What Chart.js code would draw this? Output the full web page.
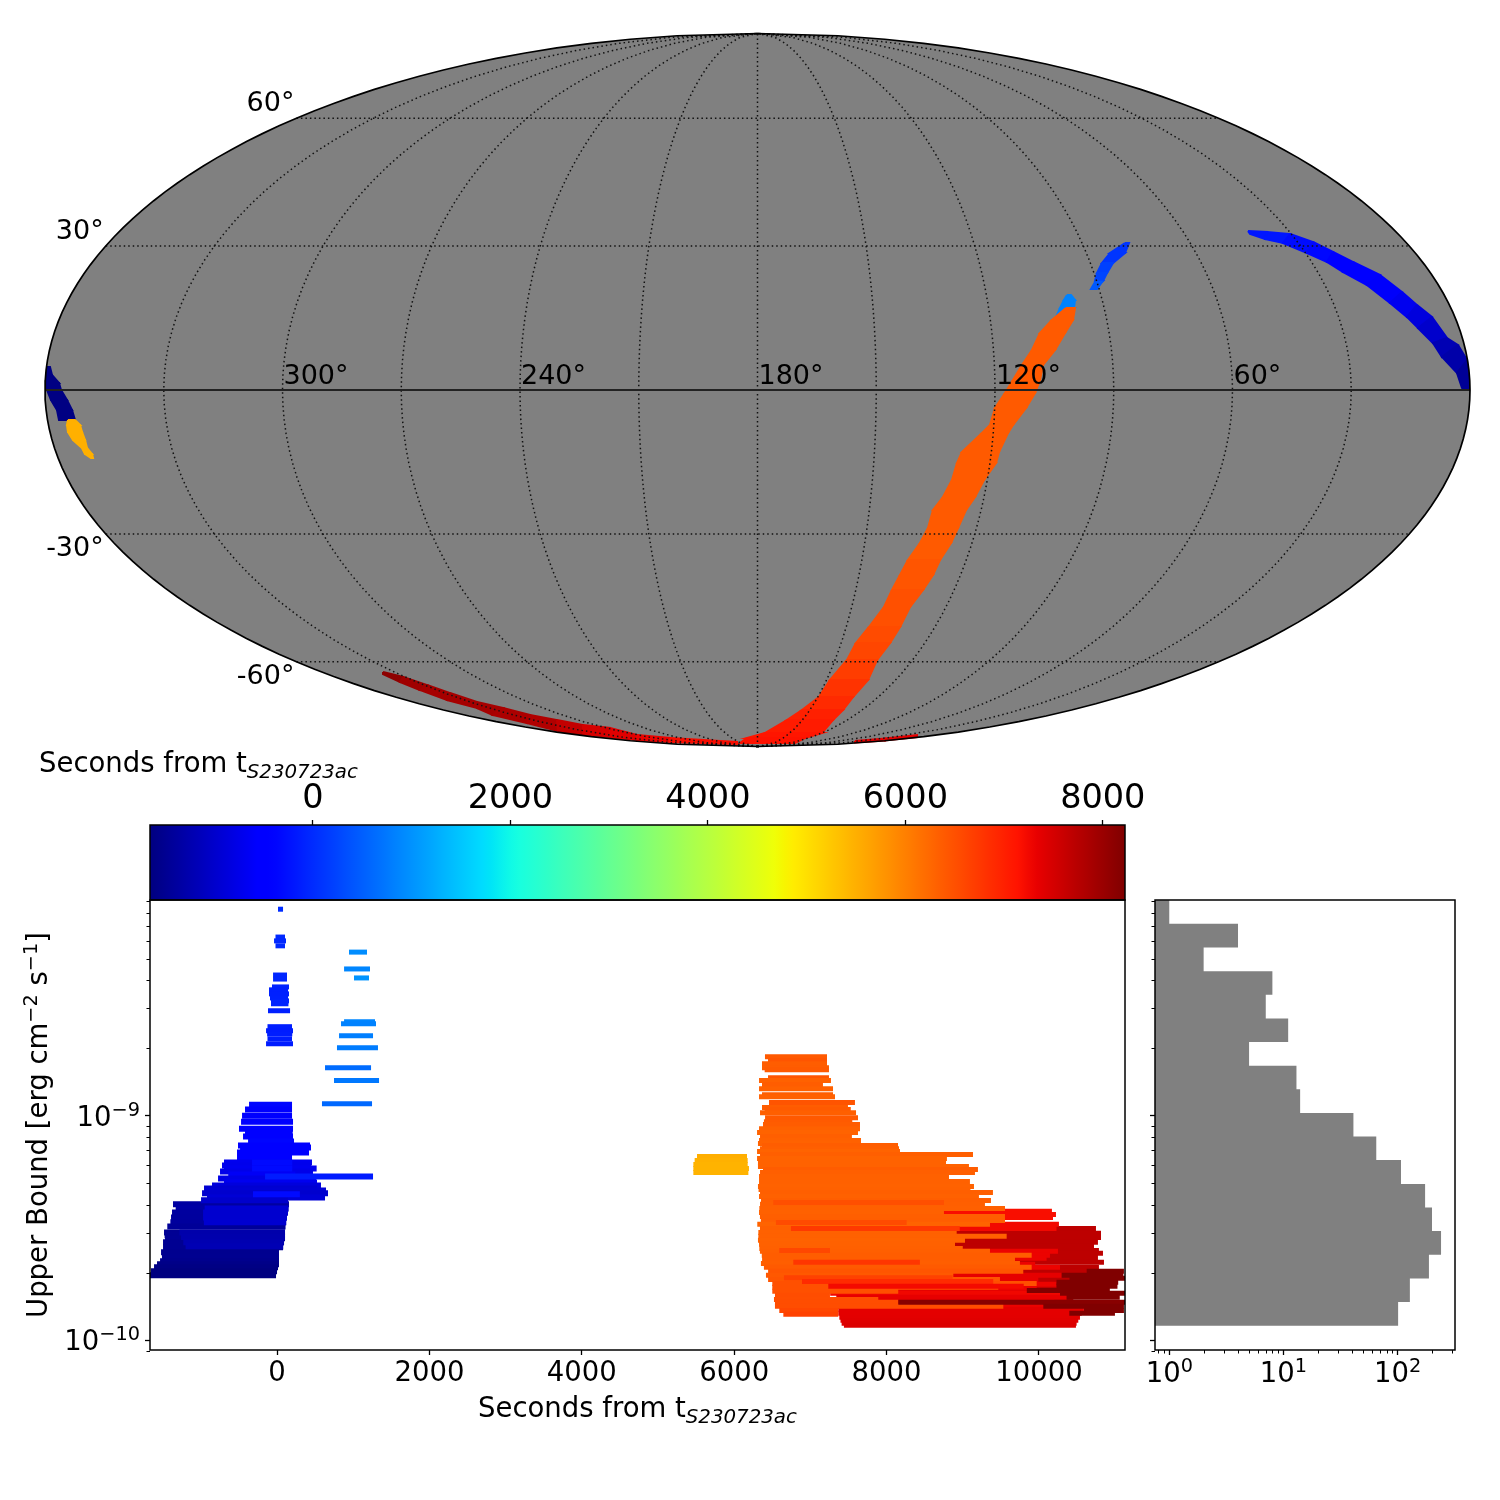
<!DOCTYPE html>
<html>
<head>
<meta charset="utf-8">
<script src="https://cdn.jsdelivr.net/npm/chart.js@4/dist/chart.umd.min.js"></script>
<style>
body { margin: 0; background: #fff; width: 1500px; height: 1500px; overflow: hidden; position: relative; }
canvas { position: absolute; }
.axis-label { position: absolute; font-family: "DejaVu Sans"; font-size: 27.5px; line-height: 34px; color: #000; white-space: nowrap; }
.axis-label i { font-size: 19.8px; position: relative; top: 6px; }
</style>
</head>
<body>
<canvas id="mapChart" width="1500" height="755" style="left:0;top:0"></canvas>
<canvas id="barChart" width="1500" height="145" style="left:0;top:760px"></canvas>
<canvas id="mainChart" width="1150" height="560" style="left:0;top:880px"></canvas>
<canvas id="histChart" width="370" height="560" style="left:1130px;top:880px"></canvas>
<div class="axis-label" style="left:39px;top:745px">Seconds from t<i>S230723ac</i></div>
<div class="axis-label" style="left:478px;top:1390px">Seconds from t<i>S230723ac</i></div>
<script>
// sky patches, plot units from the map centre, with the time that sets the colour
var orangeEdgeA = [[308.5,82],[294.5,70],[282.5,57],[274.5,40],[264.5,25],[255.5,10],[247.5,-3],[237.5,-18],[232.5,-35],[224.5,-43],[204.5,-62],[199.5,-73],[194.5,-90],[185.5,-107],[175.5,-120],[170.5,-138],[162.5,-153],[150.5,-170],[142.5,-185],[134.5,-200],[126.5,-217],[111.5,-237],[98.5,-253],[89.5,-270],[72.5,-290],[61.5,-307],[44.5,-320],[29.5,-330],[7.5,-343],[-10.5,-348],[-17.5,-353]];
var orangeEdgeB = [[317.5,82],[315.5,70],[307.5,57],[297.5,40],[285.5,25],[282.5,10],[277.5,-3],[268.5,-18],[255.5,-35],[250.5,-43],[241.5,-62],[238.5,-73],[226.5,-90],[217.5,-107],[208.5,-120],[200.5,-138],[193.5,-153],[182.5,-170],[175.5,-185],[165.5,-200],[152.5,-217],[142.5,-237],[132.5,-253],[119.5,-270],[110.5,-290],[95.5,-307],[85.5,-320],[75.5,-330],[64.5,-343],[47.5,-348],[37.5,-353]];
var orangeTimes = [6400,6400,6400,6400,6400,6400,6400,6400,6400,6400,6400,6400,6400,6400,6400,6400,6400,6450,6450,6500,6500,6550,6600,6700,6800,6900,7000,7050,7120,7150,7150];
var northBlueA = [[490.5,159],[509.5,158],[532.5,156],[555.5,148],[575.5,138],[595.5,128],[622.5,115],[644.5,98],[659.5,85],[674.5,73],[689.5,52],[700.5,45],[709.5,30],[711.5,0]];
var northBlueB = [[492.5,156],[507.5,151],[525.5,147],[549.5,137],[569.5,128],[585.5,118],[609.5,105],[632.5,87],[649.5,73],[660.5,62],[675.5,47],[684.5,33],[699.5,17],[704.5,2]];
var northBlueTimes = [-200,-200,-300,-350,-450,-500,-600,-700,-850,-1000,-1200,-1300,-1450,-1550];
var midBlueA = [[367.5,147],[352.5,137],[344.5,127],[339.5,117],[337.5,109],[337.5,108],[333.5,101]];
var midBlueB = [[371.5,147],[367.5,137],[355.5,127],[349.5,117],[345.5,109],[344.5,108],[339.5,101]];
var midBlueTimes = [100,100,200,250,300,450,450];
var capBlueA = [[309.5,95],[306.5,90],[302.5,82],[299.5,75]];
var capBlueB = [[313.5,95],[317.5,90],[316.5,82],[306.5,75]];
var capBlueTimes = [850,850,850,850];
var navyA = [[-710.5,23],[-710.5,15],[-710.5,7],[-710.5,0],[-706.5,-10],[-700.5,-20],[-698.5,-30]];
var navyB = [[-707.5,23],[-705.5,15],[-698.5,7],[-696.5,0],[-690.5,-10],[-685.5,-20],[-682.5,-30]];
var navyTimes = [-1620,-1620,-1620,-1620,-1620,-1620,-1620];
var amberA = [[-689.5,-30],[-690.5,-35],[-689.5,-42],[-684.5,-50],[-675.5,-58],[-672.5,-64],[-666.5,-68]];
var amberB = [[-682.5,-30],[-677.5,-35],[-675.5,-42],[-672.5,-50],[-670.5,-58],[-665.5,-64],[-664.5,-68]];
var amberTimes = [5500,5500,5500,5500,5500,5500,5500];
var southRedA = [[-374.5,-282],[-354.5,-287],[-330.5,-295],[-307.5,-303],[-280.5,-312],[-254.5,-318],[-227.5,-325],[-200.5,-330],[-174.5,-335],[-147.5,-338],[-120.5,-345],[-87.5,-348],[-54.5,-350],[-20.5,-352]];
var southRedB = [[-374.5,-284],[-357.5,-292],[-337.5,-300],[-310.5,-310],[-280.5,-318],[-264.5,-325],[-230.5,-333],[-199.5,-341],[-174.5,-344],[-147.5,-347],[-120.5,-350],[-87.5,-352],[-54.5,-353],[-20.5,-354]];
var southRedTimes = [8100,7950,7900,7900,7900,7850,7800,7650,7500,7400,7300,7200,7200,7200];
var dashRedA = [[97.5,-351],[127.5,-348.5],[159.5,-345]];
var dashRedB = [[97.5,-352.5],[127.5,-350.5],[159.5,-347]];
var dashRedTimes = [7350,7350,7350];

var lonLabels = [["300°",-120],["240°",-60],["180°",0],["120°",60],["60°",120]];
var latLabels = [["60°",60],["30°",30],["-30°",-30],["-60°",-60]];
var meridians = [-180,-150,-120,-90,-60,-30,0,30,60,90,120,150,180];
var parallels = [-60,-30,30,60];

// exposures: [log10 upper bound, start seconds, end seconds]
var navyBars = [[-9.395,-1365,157],[-9.413,-1330,150],[-9.431,-1378,144],[-9.453,-1391,131],[-9.475,-1400,120],[-9.493,-1440,112],[-9.520,-1483,105],[-9.533,-1475,105],[-9.546,-1470,105],[-9.564,-1496,92],[-9.586,-1496,80],[-9.608,-1522,26],[-9.630,-1510,26],[-9.648,-1535,26],[-9.662,-1575,26],[-9.675,-1614,13],[-9.693,-1654,0],[-9.711,-1667,-13]];
var navyOverlayBars = [[-9.413,-950,150],[-9.431,-970,144],[-9.453,-970,131],[-9.475,-960,120],[-9.520,-1280,105],[-9.540,-1260,105],[-9.564,-1230,92],[-9.582,-1200,80]];
var blueBars = [[-8.951,-367,197],[-8.973,-420,197],[-9.000,-459,197],[-9.027,-472,210],[-9.058,-499,210],[-9.075,-420,205],[-9.093,-446,210],[-9.115,-380,223],[-9.133,-512,433],[-9.142,-485,446],[-9.164,-525,420],[-9.186,-525,197],[-9.209,-696,459],[-9.222,-722,446],[-9.235,-696,520],[-9.249,-748,472],[-9.262,-640,240],[-9.280,-774,512],[-9.298,-696,525],[-9.311,-853,577],[-9.324,-958,525],[-9.333,-932,643],[-9.346,-984,669],[-9.364,-919,630],[-9.377,-997,144]];
var blueOverlayBars = [[-9.209,-328,200],[-9.235,-328,200],[-9.271,-157,1260],[-9.350,-315,300]];
var upperBlueBars = [[-8.081,13,79],[-8.205,-20,105],[-8.222,-39,118],[-8.244,-20,105],[-8.374,-52,131],[-8.392,-52,131],[-8.427,-66,157],[-8.440,-105,144],[-8.458,-105,157],[-8.476,-92,144],[-8.489,-79,157],[-8.502,-79,150],[-8.533,-118,171],[-8.604,-125,197],[-8.622,-144,210],[-8.636,-130,200],[-8.658,-125,197],[-8.680,-144,210]];
var skyBlueBars = [[-8.272,945,1181],[-8.347,880,1220],[-8.387,1010,1207],[-8.582,880,1286],[-8.591,840,1299],[-8.644,814,1260],[-8.698,787,1325],[-8.787,630,1234],[-8.844,748,1339],[-8.947,590,1247]];
var amberBars = [[-9.182,5512,6168],[-9.200,5481,6177],[-9.218,5464,6177],[-9.235,5464,6194],[-9.253,5464,6186]];
var darkBars = [[-9.502,7700,10748],[-9.524,7700,10814],[-9.542,7700,10814],[-9.564,7700,10774],[-9.582,7700,10722],[-9.600,7700,10787],[-9.613,7700,10840],[-9.631,7700,10774],[-9.653,7700,10853],[-9.675,7700,10787],[-9.693,7700,10713],[-9.711,7700,10400],[-9.729,7700,10500],[-9.747,7700,10450],[-9.765,7700,10500],[-9.785,7700,10450],[-9.805,7700,10500],[-9.825,7700,10450],[-9.845,7700,10400]];
var redBars = [[-9.426,7190,10170],[-9.440,7190,10223],[-9.453,7190,10184],[-9.484,7250,10262],[-9.502,7250,10230],[-9.604,7300,10249],[-9.622,7300,10144],[-9.635,7300,10100],[-9.662,7300,9950],[-9.675,7300,10276],[-9.711,7350,10298],[-9.729,7350,9991],[-9.751,7300,10230],[-9.769,7300,9970],[-9.791,7260,10276],[-9.809,7340,10363],[-9.822,7360,10200],[-9.849,7300,10100],[-9.862,7366,10590],[-9.880,7366,10560],[-9.898,7380,10538],[-9.911,7395,10516],[-9.924,7410,10494],[-9.933,7440,10485]];
var orangeBars = [[-8.738,6404,7218],[-8.756,6444,7218],[-8.769,6365,7218],[-8.787,6365,7244],[-8.796,6400,7244],[-8.831,6444,7244],[-8.844,6326,7270],[-8.862,6365,7165],[-8.880,6326,7297],[-8.907,6365,7297],[-8.916,6326,7323],[-8.942,6457,7585],[-8.964,6365,7493],[-8.973,6400,7530],[-8.987,6339,7599],[-9.009,6405,7625],[-9.027,6390,7550],[-9.040,6378,7651],[-9.058,6326,7651],[-9.075,6300,7625],[-9.093,6339,7545],[-9.111,6326,7664],[-9.124,6312,7545],[-9.133,6365,8150],[-9.147,6339,8163],[-9.160,6300,8176],[-9.173,6339,9134],[-9.191,6300,8792],[-9.209,6312,8780],[-9.226,6312,9081],[-9.240,6378,9199],[-9.253,6339,9160],[-9.271,6326,8819],[-9.293,6326,9094],[-9.315,6312,9147],[-9.329,6320,9100],[-9.342,6339,9396],[-9.360,6326,9212],[-9.378,6352,9370],[-9.395,6339,9291],[-9.413,6330,9554],[-9.431,6326,8753],[-9.449,6338,9554],[-9.467,6350,9554],[-9.484,6303,9357],[-9.502,6338,8920],[-9.520,6317,8920],[-9.537,6317,9576],[-9.555,6312,9029],[-9.573,6326,8898],[-9.591,6330,9000],[-9.604,6338,9357],[-9.622,6362,9904],[-9.640,6366,9685],[-9.658,6351,9750],[-9.675,6390,9904],[-9.693,6445,9794],[-9.711,6417,8876],[-9.729,6445,9488],[-9.747,6500,9970],[-9.764,6500,9466],[-9.782,6500,8153],[-9.800,6535,7257],[-9.818,6522,7891],[-9.831,6535,8154],[-9.849,6535,9532],[-9.867,6592,7366],[-9.884,6645,7366]];
var midBars = [[-9.387,6513,8753],[-9.476,6548,8263],[-9.502,6745,8960],[-9.600,6592,7257],[-9.653,6776,8437],[-9.722,6653,8866],[-9.738,6890,9400],[-9.760,7235,9800]];
var lateBars = [[-9.693,10626,11115],[-9.711,10298,11107],[-9.724,10400,11129],[-9.742,10230,11040],[-9.760,10230,11030],[-9.778,9840,10930],[-9.791,10276,11129],[-9.809,10363,11060],[-9.831,8154,11129],[-9.849,10057,11115],[-9.867,10590,11115],[-9.880,10398,10997]];

// histogram of the upper bounds, lowest bin first
var binEdges = [-9.935,-9.830,-9.725,-9.619,-9.514,-9.409,-9.304,-9.198,-9.093,-8.988,-8.883,-8.778,-8.672,-8.567,-8.462,-8.357,-8.251,-8.146,-8.041];
var binCounts = [101,128,188,240,200,174,107,65,41,14,13,5,11,7,8,2,4,1];

var mainXTicks = [0,2000,4000,6000,8000,10000];
var colorTicks = [0,2000,4000,6000,8000];
var yTicks = [9e-11,1e-10,2e-10,3e-10,4e-10,5e-10,6e-10,7e-10,8e-10,9e-10,1e-9,2e-9,3e-9,4e-9,5e-9,6e-9,7e-9,8e-9,9e-9];
var histXTicks = [0.8,0.9,1,2,3,4,5,6,7,8,9,10,20,30,40,50,60,70,80,90,100,200,300];
var yTitleParts = [["Upper Bound [erg cm",0],["−2",1],[" s",0],["−1",1],["]",0]];

// matplotlib jet knots
var jetR = [[0,0],[0.35,0],[0.66,1],[0.89,1],[1,0.5]];
var jetG = [[0,0],[0.125,0],[0.375,1],[0.64,1],[0.91,0],[1,0]];
var jetB = [[0,0.5],[0.11,1],[0.34,1],[0.65,0],[1,0]];
var timeMin = -1650, timeMax = 8225;

var TICK_FONT = { family: 'DejaVu Sans', size: 27.5 };
var BASE_FONT = '27.5px "DejaVu Sans"', SUP_FONT = '19.3px "DejaVu Sans"';

function knot(list, f) {
    for (var i = 1; i < list.length; i++) {
        if (f <= list[i][0]) {
            var a = list[i - 1], b = list[i];
            return a[1] + (b[1] - a[1]) * (f - a[0]) / (b[0] - a[0]);
        }
    }
    return list[list.length - 1][1];
}
function jetAt(f) {
    f = Math.min(1, Math.max(0, f));
    return 'rgb(' + Math.round(255 * knot(jetR, f)) + ',' + Math.round(255 * knot(jetG, f)) + ',' + Math.round(255 * knot(jetB, f)) + ')';
}
function timeColor(t) {
    return jetAt((t - timeMin) / (timeMax - timeMin));
}
function isDecade(v) {
    var l = Math.log10(v);
    return Math.abs(l - Math.round(l)) < 1e-6;
}

// mollweide, plot units
var HALF_W = 712.5, HALF_H = 356.5;
function mollweide(lon, lat) {
    var lo = -Math.PI / 2, hi = Math.PI / 2, target = Math.PI * Math.sin(lat * Math.PI / 180);
    for (var i = 0; i < 40; i++) {
        var mid = (lo + hi) / 2;
        if (2 * mid + Math.sin(2 * mid) < target) lo = mid; else hi = mid;
    }
    return { x: HALF_W * (lon / 180) * Math.cos(lo), y: HALF_H * Math.sin(lo) };
}
function lineSet(points, color, width, dash) {
    return { data: points, borderColor: color, borderWidth: width, borderDash: dash || [], pointRadius: 0, fill: false, borderCapStyle: 'butt', tension: 0 };
}
function shapeSet(points, color, border) {
    return { data: points, borderColor: color, borderWidth: border, backgroundColor: color, pointRadius: 0, fill: 'shape', tension: 0 };
}
function stripSets(a, b, times) {
    var out = [];
    for (var i = 0; i + 1 < a.length; i++) {
        out.push(shapeSet([
            { x: a[i][0], y: a[i][1] }, { x: a[i + 1][0], y: a[i + 1][1] },
            { x: b[i + 1][0], y: b[i + 1][1] }, { x: b[i][0], y: b[i][1] }, { x: a[i][0], y: a[i][1] }
        ], timeColor(times[i]), 2));
    }
    return out;
}

var mapSets = [];
var rim = [];
for (var lat = -90; lat <= 90; lat += 2) rim.push(mollweide(180, lat));
for (lat = 90; lat >= -90; lat -= 2) rim.push(mollweide(-180, lat));
mapSets.push(shapeSet(rim, '#808080', 0));
[[northBlueA, northBlueB, northBlueTimes], [midBlueA, midBlueB, midBlueTimes], [capBlueA, capBlueB, capBlueTimes],
 [navyA, navyB, navyTimes], [amberA, amberB, amberTimes], [southRedA, southRedB, southRedTimes],
 [dashRedA, dashRedB, dashRedTimes], [orangeEdgeA, orangeEdgeB, orangeTimes]].forEach(function(s) {
    mapSets = mapSets.concat(stripSets(s[0], s[1], s[2]));
});
meridians.forEach(function(lon) {
    if (Math.abs(lon) === 180) return;
    var pts = [];
    for (var la = -90; la <= 90; la += 3) pts.push(mollweide(lon, la));
    mapSets.push(lineSet(pts, '#111', 1.5, [1.5, 3]));
});
parallels.forEach(function(la) {
    mapSets.push(lineSet([mollweide(-180, la), mollweide(180, la)], '#111', 1.5, [1.5, 3]));
});
mapSets.push(lineSet([mollweide(-180, 0), mollweide(180, 0)], '#222', 1.9));
mapSets.push(lineSet(rim.concat([rim[0]]), '#000', 1.7));

var mapLabels = {
    id: 'mapLabels',
    afterDatasetsDraw: function(chart) {
        var ctx = chart.ctx, sx = chart.scales.x, sy = chart.scales.y;
        ctx.save();
        ctx.font = '27px "DejaVu Sans"';
        ctx.fillStyle = '#000';
        ctx.textAlign = 'left';
        lonLabels.forEach(function(l) {
            var p = mollweide(l[1], 0);
            ctx.fillText(l[0], sx.getPixelForValue(p.x) + 1, sy.getPixelForValue(p.y) - 6);
        });
        ctx.textAlign = 'right';
        latLabels.forEach(function(l) {
            var p = mollweide(-180, l[1]);
            ctx.fillText(l[0], sx.getPixelForValue(p.x) - 2, sy.getPixelForValue(p.y) + (l[1] > 0 ? -7 : 22));
        });
        ctx.restore();
    }
};
new Chart(document.getElementById('mapChart'), {
    type: 'line',
    data: { datasets: mapSets.reverse() },
    plugins: [mapLabels],
    options: {
        responsive: false, animation: false, devicePixelRatio: 1,
        layout: { padding: 0 },
        plugins: { legend: { display: false }, tooltip: { enabled: false } },
        scales: {
            x: { type: 'linear', display: false, min: -757.5, max: 742.5 },
            y: { type: 'linear', display: false, min: -365, max: 390 }
        }
    }
});

var frame = {
    id: 'frame',
    afterDraw: function(chart) {
        var ctx = chart.ctx, a = chart.chartArea;
        ctx.save();
        ctx.strokeStyle = '#000';
        ctx.lineWidth = 1.5;
        ctx.strokeRect(a.left, a.top, a.right - a.left, a.bottom - a.top);
        ctx.restore();
    }
};
var minorTicks = {
    id: 'minorTicks',
    afterDraw: function(chart) {
        var ctx = chart.ctx;
        ctx.save();
        ctx.strokeStyle = '#000';
        ctx.lineWidth = 1;
        ['x', 'y'].forEach(function(id) {
            var s = chart.scales[id];
            if (s.type !== 'logarithmic') return;
            s.ticks.forEach(function(t) {
                if (isDecade(t.value)) return;
                var p = Math.round(s.getPixelForValue(t.value)) + 0.5;
                ctx.beginPath();
                if (id === 'x') { ctx.moveTo(p, s.top); ctx.lineTo(p, s.top + 3.5); }
                else { ctx.moveTo(s.right, p); ctx.lineTo(s.right - 3.5, p); }
                ctx.stroke();
            });
        });
        ctx.restore();
    }
};
// runs of text with raised exponents, laid out from x along the current baseline
function drawParts(ctx, parts, x, y) {
    parts.forEach(function(p) {
        ctx.font = p[1] ? SUP_FONT : BASE_FONT;
        ctx.fillText(p[0], x, p[1] ? y - 10 : y);
        x += ctx.measureText(p[0]).width;
    });
}
function partsWidth(ctx, parts) {
    return parts.reduce(function(w, p) {
        ctx.font = p[1] ? SUP_FONT : BASE_FONT;
        return w + ctx.measureText(p[0]).width;
    }, 0);
}
function powerParts(v) {
    return [["10", 0], [String(Math.round(Math.log10(v))).replace('-', '−'), 1]];
}
function powerTicks(axis, labelled) {
    return {
        id: 'powerTicks',
        afterDraw: function(chart) {
            var ctx = chart.ctx, s = chart.scales[axis];
            ctx.save();
            ctx.fillStyle = '#000';
            ctx.textAlign = 'left';
            ctx.textBaseline = 'alphabetic';
            s.ticks.forEach(function(t) {
                if (!isDecade(t.value) || !labelled) return;
                var parts = powerParts(t.value), w = partsWidth(ctx, parts), p = s.getPixelForValue(t.value);
                if (axis === 'x') drawParts(ctx, parts, p - w / 2, s.top + 32);
                else drawParts(ctx, parts, s.right - 10 - w, p + 10);
            });
            ctx.restore();
        }
    };
}
var yTitle = {
    id: 'yTitle',
    afterDraw: function(chart) {
        var ctx = chart.ctx, a = chart.chartArea;
        ctx.save();
        ctx.fillStyle = '#000';
        ctx.textAlign = 'left';
        ctx.textBaseline = 'alphabetic';
        ctx.translate(47, (a.top + a.bottom) / 2);
        ctx.rotate(-Math.PI / 2);
        drawParts(ctx, yTitleParts, -partsWidth(ctx, yTitleParts) / 2, 0);
        ctx.restore();
    }
};
function tickGrid() {
    return {
        drawOnChartArea: false, drawTicks: true, tickLength: 5, tickWidth: 1.3,
        tickColor: function(c) {
            if (!c.tick) return '#000';
            return c.scale.type !== 'logarithmic' || isDecade(c.tick.value) ? '#000' : 'rgba(0,0,0,0)';
        }
    };
}
function setTicks(list) {
    return function(scale) { scale.ticks = list.map(function(v) { return { value: v }; }); };
}
function fixHeight(h) {
    return function(s) { s.height = h; s.paddingLeft = 0; s.paddingRight = 0; };
}
function fixWidth(w) {
    return function(s) { s.width = w; s.paddingTop = 0; s.paddingBottom = 0; };
}

// colour bar
new Chart(document.getElementById('barChart'), {
    type: 'bar',
    data: {
        labels: ['t'],
        datasets: [{
            data: [[timeMin, timeMax]],
            barPercentage: 1, categoryPercentage: 1, borderWidth: 0, borderSkipped: false,
            backgroundColor: function(c) {
                var s = c.chart.scales.x;
                if (!s || !c.chart.chartArea) return '#000';
                var g = c.chart.ctx.createLinearGradient(s.left, 0, s.right, 0);
                for (var i = 0; i <= 100; i++) g.addColorStop(i / 100, jetAt(i / 100));
                return g;
            }
        }]
    },
    plugins: [frame],
    options: {
        indexAxis: 'y', responsive: false, animation: false, devicePixelRatio: 1,
        layout: { padding: { left: 150, right: 375, top: 0, bottom: 5 } },
        plugins: { legend: { display: false }, tooltip: { enabled: false } },
        scales: {
            x: {
                type: 'linear', position: 'top', min: timeMin, max: timeMax,
                afterBuildTicks: setTicks(colorTicks), afterFit: fixHeight(65),
                border: { display: false }, grid: tickGrid(),
                ticks: { font: { family: 'DejaVu Sans', size: 33.5 }, color: '#000', maxRotation: 0, autoSkip: false, padding: 1, callback: function(v) { return String(v); } }
            },
            y: { display: false }
        }
    }
});

function barSets(bars, width) {
    return bars.map(function(b) {
        var ub = Math.pow(10, b[0]);
        return lineSet([{ x: b[1], y: ub }, { x: b[2], y: ub }], timeColor(b[1]), width);
    });
}
var mainSets = [];
[darkBars, redBars, orangeBars, midBars, lateBars, amberBars, upperBlueBars, skyBlueBars].forEach(function(g) {
    mainSets = mainSets.concat(barSets(g, 5));
});
[navyBars, navyOverlayBars, blueBars, blueOverlayBars].forEach(function(g) {
    mainSets = mainSets.concat(barSets(g, 6));
});

new Chart(document.getElementById('mainChart'), {
    type: 'line',
    data: { datasets: mainSets.reverse() },
    plugins: [minorTicks, frame, powerTicks('y', true), yTitle],
    options: {
        responsive: false, animation: false, devicePixelRatio: 1,
        layout: { padding: { left: 0, right: 25, top: 20, bottom: 30 } },
        plugins: { legend: { display: false }, tooltip: { enabled: false } },
        scales: {
            x: {
                type: 'linear', min: -1667, max: 11129,
                afterBuildTicks: setTicks(mainXTicks), afterFit: fixHeight(60),
                border: { display: false }, grid: tickGrid(),
                ticks: { font: TICK_FONT, color: '#000', maxRotation: 0, autoSkip: false, padding: 2, callback: function(v) { return String(v); } }
            },
            y: {
                type: 'logarithmic', min: 9.05e-11, max: 9.12e-9,
                afterBuildTicks: setTicks(yTicks), afterFit: fixWidth(150),
                border: { display: false }, grid: tickGrid(),
                ticks: { autoSkip: false, padding: 0, callback: function() { return ''; } }
            }
        }
    }
});

// histogram outline built from the bin arrays
var histFloor = 0.75;
var histShape = [{ x: histFloor, y: Math.pow(10, binEdges[0]) }];
binCounts.forEach(function(n, i) {
    histShape.push({ x: n, y: Math.pow(10, binEdges[i]) });
    histShape.push({ x: n, y: Math.pow(10, binEdges[i + 1]) });
});
histShape.push({ x: histFloor, y: Math.pow(10, binEdges[binEdges.length - 1]) });

new Chart(document.getElementById('histChart'), {
    type: 'line',
    data: { datasets: [shapeSet(histShape, '#808080', 0)] },
    plugins: [minorTicks, frame, powerTicks('x', true)],
    options: {
        responsive: false, animation: false, devicePixelRatio: 1,
        layout: { padding: { left: 0, right: 45, top: 20, bottom: 30 } },
        plugins: { legend: { display: false }, tooltip: { enabled: false } },
        scales: {
            x: {
                type: 'logarithmic', min: histFloor, max: 318,
                afterBuildTicks: setTicks(histXTicks), afterFit: fixHeight(60),
                border: { display: false }, grid: tickGrid(),
                ticks: { autoSkip: false, maxRotation: 0, padding: 0, callback: function() { return ''; } }
            },
            y: {
                type: 'logarithmic', min: 9.05e-11, max: 9.12e-9,
                afterBuildTicks: setTicks(yTicks), afterFit: fixWidth(25),
                border: { display: false }, grid: tickGrid(),
                ticks: { autoSkip: false, padding: 0, callback: function() { return ''; } }
            }
        }
    }
});
</script>
</body>
</html>
